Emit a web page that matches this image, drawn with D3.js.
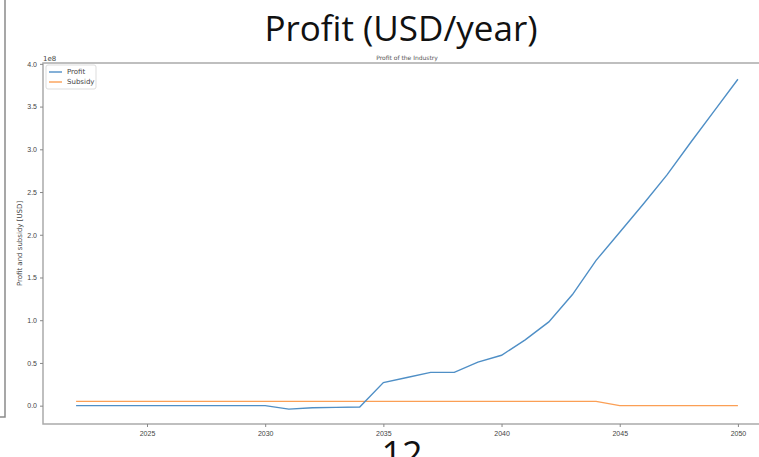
<!DOCTYPE html>
<html>
<head>
<meta charset="utf-8">
<script src="https://cdn.jsdelivr.net/npm/d3@7"></script>
<style>
  body { margin: 0; background: #fff; }
  svg { display: block; font-family: "DejaVu Sans", sans-serif; }
</style>
</head>
<body>
<svg width="759" height="457"></svg>
<script>
// data (profit and subsidy in units of 1e8 USD)
var years = d3.range(2022, 2051);
var profit = [0, 0, 0, 0, 0, 0, 0, 0, 0,
              -0.04, -0.025, -0.02, -0.015,
              0.27, 0.33, 0.39, 0.39, 0.51, 0.59, 0.77, 0.98, 1.30, 1.70,
              2.03, 2.36, 2.70, 3.08, 3.45, 3.82];
var subsidy = years.map(function(y) { return y <= 2044 ? 0.05 : 0; });
var yTicks = [0, 0.5, 1.0, 1.5, 2.0, 2.5, 3.0, 3.5, 4.0];
var xTicks = [2025, 2030, 2035, 2040, 2045, 2050];

var svg = d3.select('svg');

// slide frame bits
svg.append('path')
    .attr('d', 'M5,0 V417 H0')
    .attr('fill', 'none')
    .attr('stroke', '#8a8a8a')
    .attr('stroke-width', 1.5);

// slide title
svg.append('text')
    .attr('x', 401).attr('y', 41)
    .attr('text-anchor', 'middle')
    .attr('font-family', '"Open Sans", sans-serif')
    .attr('font-size', 35)
    .attr('fill', '#111')
    .text('Profit (USD/year)');

var plotLeft = 43, plotTop = 63, plotBottom = 424;

var x = d3.scaleLinear().domain([2020.6, 2051.4]).range([plotLeft, 771]);
var y = d3.scaleLinear().domain([-0.2145, 4.01]).range([plotBottom, plotTop]);

var g = svg.append('g');

// spines
g.append('path')
    .attr('d', 'M780,' + plotTop + ' H' + plotLeft + ' V' + plotBottom + ' H780')
    .attr('fill', 'none')
    .attr('stroke', '#aaa')
    .attr('stroke-width', 1.5);

// axes
var xAxis = g.append('g')
    .attr('transform', 'translate(0,' + plotBottom + ')')
    .call(d3.axisBottom(x).tickValues(xTicks).tickFormat(d3.format('d')).tickSize(3).tickSizeOuter(0));
var yAxis = g.append('g')
    .attr('transform', 'translate(' + plotLeft + ',0)')
    .call(d3.axisLeft(y).tickValues(yTicks).tickFormat(d3.format('.1f')).tickSize(3).tickSizeOuter(0));
[xAxis, yAxis].forEach(function(a) {
  a.select('.domain').remove();
  a.selectAll('line').attr('stroke', '#888');
  a.selectAll('text').attr('fill', '#444').style('font-size', '7px');
});
xAxis.selectAll('text').attr('dy', '0.9em');

g.append('text')
    .attr('x', plotLeft).attr('y', 61)
    .attr('fill', '#444').style('font-size', '7px')
    .text('1e8');

g.append('text')
    .attr('transform', 'translate(22,' + ((plotTop + plotBottom) / 2) + ') rotate(-90)')
    .attr('text-anchor', 'middle')
    .attr('fill', '#444').style('font-size', '7px')
    .text('Profit and subsidy [USD]');

g.append('text')
    .attr('x', 407).attr('y', 60)
    .attr('text-anchor', 'middle')
    .attr('fill', '#555').style('font-size', '6px')
    .text('Profit of the Industry');

// lines
var line = d3.line()
    .x(function(d, i) { return x(years[i]); })
    .y(function(d) { return y(d); });

var series = [
  {name: 'Profit', values: profit, color: '#4f8fc6'},
  {name: 'Subsidy', values: subsidy, color: '#fb9f55'}
];

g.selectAll('path.series')
    .data(series.slice().reverse())
    .enter().append('path')
    .attr('class', 'series')
    .attr('d', function(d) { return line(d.values); })
    .attr('fill', 'none')
    .attr('stroke', function(d) { return d.color; })
    .attr('stroke-width', 1.4);

// legend
var legend = g.append('g');
legend.append('rect')
    .attr('x', 46).attr('y', 65)
    .attr('width', 50).attr('height', 24)
    .attr('rx', 2)
    .attr('fill', '#fff')
    .attr('stroke', '#ddd');
var items = legend.selectAll('g.item')
    .data(series)
    .enter().append('g')
    .attr('class', 'item')
    .attr('transform', function(d, i) { return 'translate(49,' + (72 + i * 10) + ')'; });
items.append('line')
    .attr('x1', 0).attr('x2', 13)
    .attr('stroke', function(d) { return d.color; })
    .attr('stroke-width', 1.4);
items.append('text')
    .attr('x', 18).attr('dy', '0.35em')
    .attr('fill', '#444').style('font-size', '7px')
    .text(function(d) { return d.name; });

// page number, cut by the bottom edge
svg.append('text')
    .attr('x', 402).attr('y', 467)
    .attr('text-anchor', 'middle')
    .attr('font-family', '"Open Sans", sans-serif')
    .attr('font-size', 36)
    .attr('fill', '#111')
    .text('12');
</script>
</body>
</html>
